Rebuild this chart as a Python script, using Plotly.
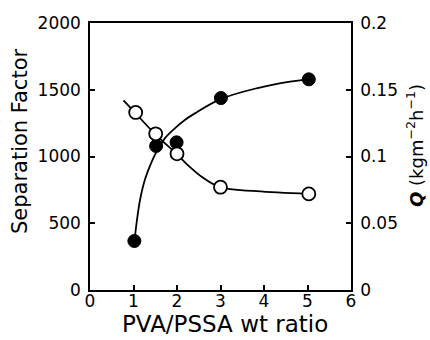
import plotly.graph_objects as go

# Data
sep_x = [1.02, 1.52, 1.99, 3.01, 5.03]
sep_factor = [367, 1079, 1106, 1438, 1578]
q_x = [1.05, 1.51, 2.0, 3.0, 5.03]
q_flux = [0.133, 0.117, 0.102, 0.077, 0.072]

# Fitted (hand-drawn) curves
sep_fit_x = [1.03, 1.07, 1.15, 1.26, 1.42, 1.53, 1.72, 1.95, 2.18, 2.41, 3.0, 3.83, 4.6, 5.02]
sep_fit_y = [390, 500, 674, 824, 961, 1036, 1136, 1211, 1273, 1323, 1430, 1511, 1561, 1578]
q_fit_x = [0.77, 1.03, 1.49, 1.99, 2.3, 2.6, 2.99, 3.83, 5.02]
q_fit_y = [0.142, 0.133, 0.117, 0.102, 0.092, 0.084, 0.077, 0.074, 0.072]

x_ticks = [0, 1, 2, 3, 4, 5, 6]
y1_ticks = [0, 500, 1000, 1500, 2000]
y2_ticks = [0, 0.05, 0.1, 0.15, 0.2]
y2_labels = ["0", "0.05", "0.1", "0.15", "0.2"]

x_title = "PVA/PSSA wt ratio"
y1_title = "Separation Factor"
y2_title = "<b><i>Q</i></b> (kgm<sup>−2</sup>h<sup>−1</sup>)"

FONT = "DejaVu Sans"
fig = go.Figure()
fig.add_trace(go.Scatter(x=sep_fit_x, y=sep_fit_y, mode="lines", line=dict(color="black", width=1.8, shape="spline"),
                         yaxis="y", showlegend=False, hoverinfo="skip"))
fig.add_trace(go.Scatter(x=q_fit_x, y=q_fit_y, mode="lines", line=dict(color="black", width=1.8, shape="spline"),
                         yaxis="y2", showlegend=False, hoverinfo="skip"))
fig.add_trace(go.Scatter(x=sep_x, y=sep_factor, mode="markers", yaxis="y",
                         marker=dict(size=13, color="black", line=dict(color="black", width=1)), showlegend=False))
fig.add_trace(go.Scatter(x=q_x, y=q_flux, mode="markers", yaxis="y2",
                         marker=dict(size=13, color="white", line=dict(color="black", width=1.8)), showlegend=False))

axis_common = dict(showgrid=False, zeroline=False, showline=True, linecolor="black", linewidth=1.5,
                   ticks="inside", ticklen=5, tickwidth=1.5, tickcolor="black",
                   tickfont=dict(family=FONT, size=17, color="black"))

fig.update_layout(
    width=430, height=340, margin=dict(l=90, r=79, t=23, b=50, autoexpand=False),
    paper_bgcolor="white", plot_bgcolor="white",
    xaxis=dict(range=[0, 6], tickvals=x_ticks, mirror=True, ticklabelstandoff=-5, **axis_common),
    yaxis=dict(range=[0, 2000], tickvals=y1_ticks, ticklabelstandoff=4, **axis_common),
    yaxis2=dict(range=[0, 0.2], tickvals=y2_ticks, ticktext=y2_labels, overlaying="y", side="right",
                ticklabelstandoff=4, **axis_common),
)
fig.add_annotation(text=x_title, xref="paper", yref="paper", x=(225 - 90) / 261, y=(290 - 324) / 267,
                   showarrow=False, xanchor="center", yanchor="middle",
                   font=dict(family=FONT, size=23, color="black"))
fig.add_annotation(text=y1_title, xref="paper", yref="paper", x=(20 - 90) / 261, y=(290 - 141) / 267,
                   showarrow=False, xanchor="center", yanchor="middle", textangle=-90,
                   font=dict(family=FONT, size=21, color="black"))
fig.add_annotation(text=y2_title, xref="paper", yref="paper", x=(415 - 90) / 261, y=(290 - 146) / 267,
                   showarrow=False, xanchor="center", yanchor="middle", textangle=-90,
                   font=dict(family=FONT, size=18, color="black"))
fig.write_html("out.html", post_script="document.body.style.margin='0';",
               config={"displayModeBar": False})
